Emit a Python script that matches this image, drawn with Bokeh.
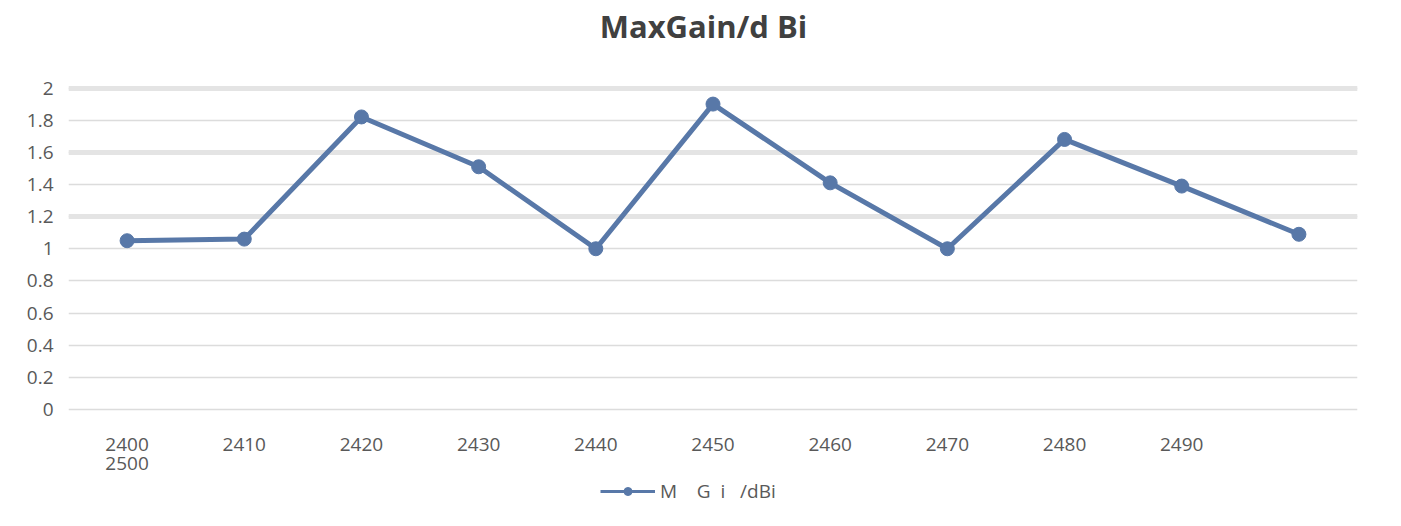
from bokeh.plotting import figure
from bokeh.models import Range1d, Legend, LegendItem, Grid, FixedTicker, LinearAxis, Label
from bokeh.layouts import column
from bokeh.embed import file_html
from bokeh.resources import INLINE

# ---- data ----
categories = ["2400", "2410", "2420", "2430", "2440", "2450", "2460", "2470", "2480", "2490", "2500"]
max_gain = [1.05, 1.06, 1.82, 1.51, 1.00, 1.90, 1.41, 1.00, 1.68, 1.39, 1.09]
y_ticks = [0, 0.2, 0.4, 0.6, 0.8, 1.0, 1.2, 1.4, 1.6, 1.8, 2.0]
y_tick_labels = ["0", "0.2", "0.4", "0.6", "0.8", "1", "1.2", "1.4", "1.6", "1.8", "2"]
thick_grid = [1.2, 1.6, 2.0]
title_text = "MaxGain/d Bi"
legend_text = "M\u00a0\u00a0\u00a0\u00a0G\u00a0\u00a0i\u00a0\u00a0\u00a0/dBi"

FONT = "Open Sans"
LINE_COLOR = "#5878a8"
TEXT_COLOR = "#595959"

xs = list(range(len(categories)))

# ---- title strip ----
title_fig = figure(width=1401, height=60, x_range=Range1d(68, 1357), y_range=Range1d(0, 60),
                   x_axis_type=None, y_axis_type=None,
                   output_backend="svg", toolbar_location=None, min_border=0)
title_fig.outline_line_color = None
title_fig.border_fill_color = "white"
title_fig.add_layout(Label(x=703, y=35, text=title_text, text_align="center",
                           text_baseline="middle", text_font=FONT, text_font_size="31px",
                           text_font_style="bold", text_color="#404040"))

# ---- chart ----
chart = figure(width=1401, height=418, x_range=Range1d(-0.5, len(categories) - 0.5),
               y_range=Range1d(-0.0124, 2.0156),
               output_backend="svg", toolbar_location=None,
               min_border_left=68, min_border_right=44, min_border_top=25, min_border_bottom=67)
chart.outline_line_color = None
chart.background_fill_color = "white"
chart.border_fill_color = "white"

def style_axis(ax):
    ax.axis_line_color = None
    ax.major_tick_line_color = None
    ax.minor_tick_line_color = None
    ax.major_tick_out = 0
    ax.major_tick_in = 0
    ax.minor_tick_out = 0
    ax.minor_tick_in = 0
    ax.major_label_text_font = FONT
    ax.major_label_text_font_size = "19px"
    ax.major_label_text_color = TEXT_COLOR

style_axis(chart.xaxis[0])
style_axis(chart.yaxis[0])
chart.xaxis[0].ticker = FixedTicker(ticks=xs[:-1])
chart.xaxis[0].major_label_overrides = {i: c for i, c in zip(xs[:-1], categories[:-1])}
chart.xaxis[0].major_label_standoff = 26
chart.yaxis[0].ticker = FixedTicker(ticks=y_ticks)
chart.yaxis[0].major_label_overrides = dict(zip(y_ticks, y_tick_labels))
chart.yaxis[0].major_label_standoff = 15

# in the original the last category's label is wrapped under the first one
wrap_axis = LinearAxis(ticker=FixedTicker(ticks=xs[:1]),
                       major_label_overrides={xs[0]: categories[-1]})
style_axis(wrap_axis)
wrap_axis.major_label_standoff = 3
chart.add_layout(wrap_axis, "below")

chart.xgrid.grid_line_color = None
chart.ygrid.ticker = FixedTicker(ticks=y_ticks)
chart.ygrid.grid_line_color = "#dcdcdc"
chart.ygrid.grid_line_width = 1.5
chart.add_layout(Grid(dimension=1, ticker=FixedTicker(ticks=thick_grid),
                      grid_line_color="#e4e4e4", grid_line_width=5))

chart.line(x=xs, y=max_gain, line_width=5, line_color=LINE_COLOR)
chart.scatter(x=xs, y=max_gain, size=14, fill_color=LINE_COLOR, line_color=LINE_COLOR)

# ---- legend strip below the chart ----
leg_fig = figure(width=1401, height=48, x_range=Range1d(1000, 1001), y_range=Range1d(1000, 1001),
                 x_axis_type=None, y_axis_type=None,
                 output_backend="svg", toolbar_location=None, min_border=0)
leg_fig.outline_line_color = None
leg_fig.background_fill_color = "white"
leg_fig.border_fill_color = "white"
# same series, drawn outside the strip's visible range; used only for the legend glyph
lg_ln = leg_fig.line(x=xs, y=max_gain, line_width=3, line_color=LINE_COLOR)
lg_sc = leg_fig.scatter(x=xs, y=max_gain, size=12, fill_color=LINE_COLOR, line_color=LINE_COLOR)
legend = Legend(items=[LegendItem(label=legend_text, renderers=[lg_ln, lg_sc])],
                orientation="horizontal", location=(532, 22),
                border_line_color=None, background_fill_alpha=0,
                label_text_font=FONT, label_text_font_size="19px", label_text_color=TEXT_COLOR,
                glyph_width=55, label_standoff=5, padding=0, margin=0)
leg_fig.add_layout(legend)

p = column(title_fig, chart, leg_fig, spacing=0)

open("out.html", "w").write(file_html(p, INLINE))
